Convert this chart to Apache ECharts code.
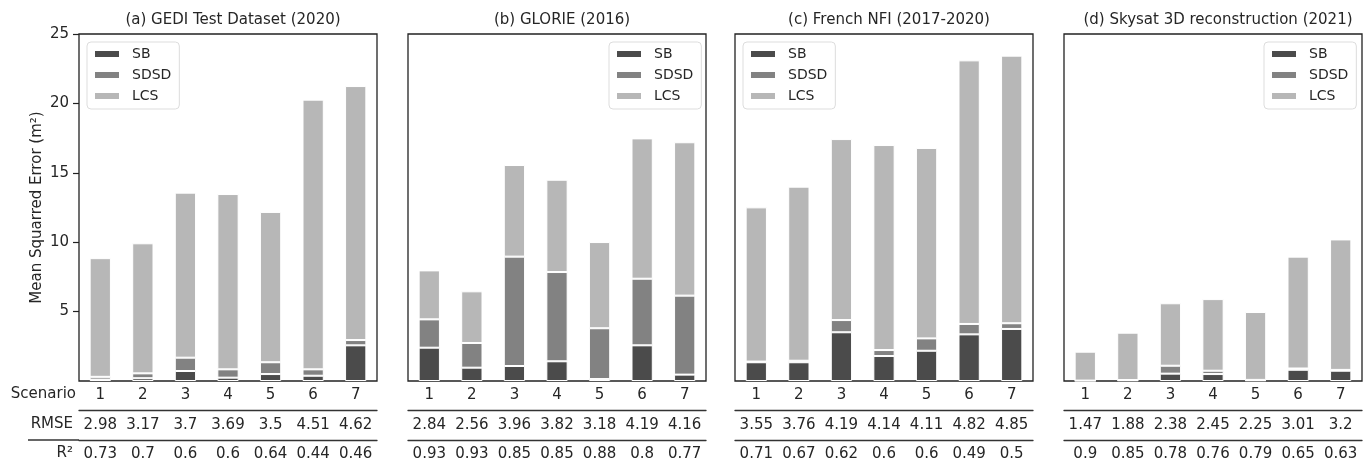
<!DOCTYPE html>
<html>
<head>
<meta charset="utf-8">
<script src="https://cdn.jsdelivr.net/npm/echarts@6/dist/echarts.min.js"></script>
<style>
html,body{margin:0;padding:0;background:#fff;}
#chart{width:1370px;height:467px;}
</style>
</head>
<body>
<div id="chart"></div>
<script>
// ---- data ----
const titles = ['(a) GEDI Test Dataset (2020)', '(b) GLORIE (2016)', '(c) French NFI (2017-2020)', '(d) Skysat 3D reconstruction (2021)'];
const scenarios = ['1', '2', '3', '4', '5', '6', '7'];
const seriesNames = ['SB', 'SDSD', 'LCS'];
// segment heights (MSE components) per panel
const sbA   = [0.10, 0.20, 0.72, 0.24, 0.50, 0.38, 2.57];
const sdsdA = [0.20, 0.35, 0.96, 0.60, 0.85, 0.46, 0.38];
const lcsA  = [8.55, 9.37, 11.89, 12.63, 10.83, 19.43, 18.30];
const sbB   = [2.40, 0.96, 1.08, 1.42, 0.14, 2.57, 0.46];
const sdsdB = [2.04, 1.78, 7.88, 6.43, 3.66, 4.80, 5.69];
const lcsB  = [3.53, 3.72, 6.60, 6.65, 6.21, 10.11, 11.05];
const sbC   = [1.35, 1.35, 3.51, 1.80, 2.18, 3.36, 3.75];
const sdsdC = [0.05, 0.11, 0.88, 0.43, 0.89, 0.75, 0.41];
const lcsC  = [11.11, 12.54, 13.04, 14.77, 13.72, 18.99, 19.28];
const sbD   = [0.02, 0.05, 0.53, 0.50, 0.05, 0.81, 0.74];
const sdsdD = [0.01, 0.02, 0.57, 0.24, 0.03, 0.09, 0.06];
const lcsD  = [2.08, 3.41, 4.50, 5.16, 4.89, 8.06, 9.40];
const rmseA = ['2.98', '3.17', '3.7', '3.69', '3.5', '4.51', '4.62'];
const rmseB = ['2.84', '2.56', '3.96', '3.82', '3.18', '4.19', '4.16'];
const rmseC = ['3.55', '3.76', '4.19', '4.14', '4.11', '4.82', '4.85'];
const rmseD = ['1.47', '1.88', '2.38', '2.45', '2.25', '3.01', '3.2'];
const r2A = ['0.73', '0.7', '0.6', '0.6', '0.64', '0.44', '0.46'];
const r2B = ['0.93', '0.93', '0.85', '0.85', '0.88', '0.8', '0.77'];
const r2C = ['0.71', '0.67', '0.62', '0.6', '0.6', '0.49', '0.5'];
const r2D = ['0.9', '0.85', '0.78', '0.76', '0.79', '0.65', '0.63'];
const yTicks = [0, 5, 10, 15, 20, 25];
const yLabel = 'Mean Squarred Error (m²)';
const rowLabels = ['Scenario', 'RMSE', 'R²'];

// ---- layout / style ----
const panels = [
  {sb: sbA, sdsd: sdsdA, lcs: lcsA, rmse: rmseA, r2: r2A},
  {sb: sbB, sdsd: sdsdB, lcs: lcsB, rmse: rmseB, r2: r2B},
  {sb: sbC, sdsd: sdsdC, lcs: lcsC, rmse: rmseC, r2: r2C},
  {sb: sbD, sdsd: sdsdD, lcs: lcsD, rmse: rmseD, r2: r2D}
];
const gridLefts = [79, 408, 735, 1064];
const gridW = 298;
const gridTop = 34, gridH = 347;
const legendLefts = [87, 609, 743, 1264];
const colors = ['#4b4b4b', '#828282', '#b7b7b7'];
const FONT = 'DejaVu Sans';
const txt = '#262626';

const grid = [], xAxis = [], yAxis = [], series = [], title = [], legend = [];
panels.forEach((p, g) => {
  grid.push({left: gridLefts[g], top: gridTop, width: gridW, height: gridH,
    show: true, borderColor: '#222', borderWidth: 1.3, backgroundColor: 'transparent'});
  title.push({text: titles[g], left: gridLefts[g] + gridW / 2, top: 8, textAlign: 'center',
    textStyle: {fontFamily: FONT, fontSize: 15, fontWeight: 'normal', color: txt}});
  legend.push({data: seriesNames, orient: 'vertical', left: legendLefts[g], top: 42,
    icon: 'rect', itemWidth: 26, itemHeight: 8, itemGap: 7,
    padding: [5, 8, 6, 6], borderColor: '#ddd', borderWidth: 1, borderRadius: 4,
    backgroundColor: 'rgba(255,255,255,0.8)',
    textStyle: {fontFamily: FONT, fontSize: 14, color: txt, lineHeight: 14, padding: [0, 0, 0, 7]}});
  const rows = [scenarios, p.rmse, p.r2];
  rows.forEach((labels, r) => {
    xAxis.push({type: 'category', gridIndex: g, data: scenarios, position: 'bottom',
      offset: r * 29.5,
      axisLine: {show: r > 0, lineStyle: {color: '#333', width: 1.3}},
      axisTick: {show: false},
      axisLabel: {interval: 0, hideOverlap: false, margin: 7, fontFamily: FONT, fontSize: 15, color: txt,
        formatter: (v, i) => labels[i]},
      splitLine: {show: false}});
  });
  yAxis.push({type: 'value', gridIndex: g, min: 0, max: 25, interval: 5,
    name: g === 0 ? yLabel : '', nameLocation: 'middle', nameGap: 34,
    nameTextStyle: {fontFamily: FONT, fontSize: 15, color: txt},
    axisLine: {show: false},
    axisTick: {show: g === 0, inside: false, length: 6, lineStyle: {color: '#222', width: 1.2}},
    axisLabel: {show: g === 0, showMinLabel: false, margin: 10, fontFamily: FONT, fontSize: 15, color: txt},
    splitLine: {show: false}});
  [p.sb, p.sdsd, p.lcs].forEach((vals, k) => {
    series.push({name: seriesNames[k], type: 'bar', stack: 'p' + g,
      xAxisIndex: g * 3, yAxisIndex: g, data: vals, barWidth: '50%',
      itemStyle: {color: colors[k], borderColor: '#fff', borderWidth: 1},
      emphasis: {disabled: true}});
  });
});

const graphic = [
  {type: 'text', right: 1370 - 76, top: 387, style: {text: rowLabels[0], font: '15px "DejaVu Sans"', fill: txt}},
  {type: 'text', right: 1370 - 73, top: 416.5, style: {text: rowLabels[1], font: '15px "DejaVu Sans"', fill: txt}},
  {type: 'text', right: 1370 - 73, top: 446, style: {text: rowLabels[2], font: '15px "DejaVu Sans"', fill: txt}},
  {type: 'line', shape: {x1: 28, y1: 440, x2: 79, y2: 440}, style: {stroke: '#333', lineWidth: 1.3}}
];

const chart = echarts.init(document.getElementById('chart'), null, {renderer: 'canvas'});
chart.setOption({animation: false, backgroundColor: '#fff', title, legend, grid, xAxis, yAxis, series, graphic});
</script>
</body>
</html>
